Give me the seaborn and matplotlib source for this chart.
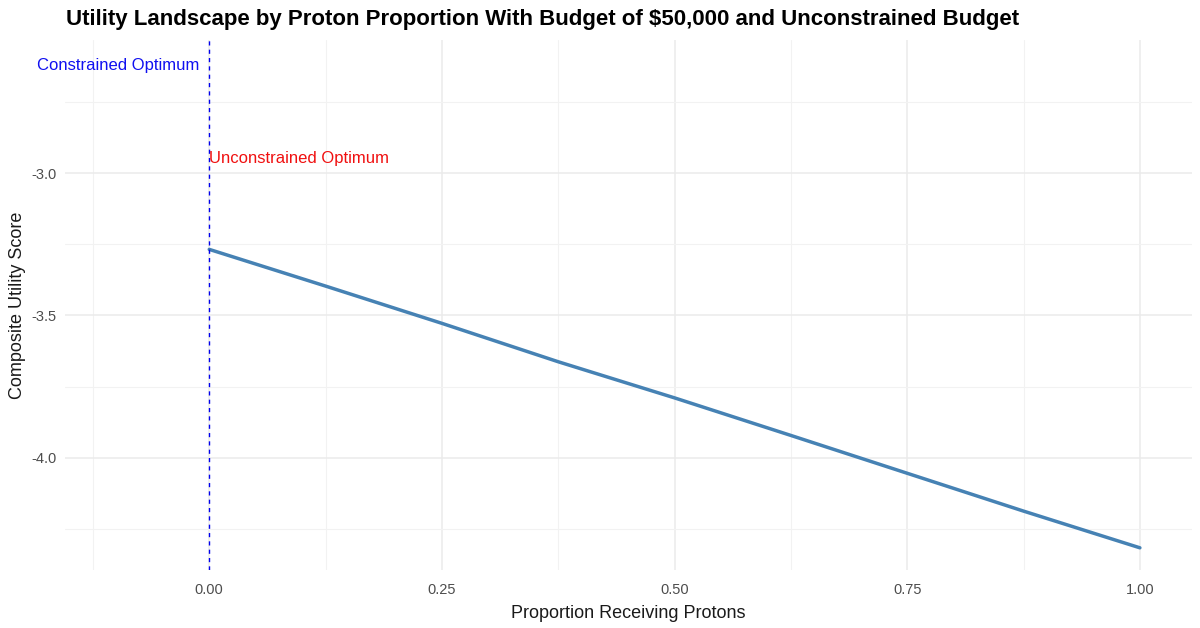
#!/usr/bin/env python3
"""
Utility landscape by proton proportion, ggplot-minimal look in seaborn
"""

import matplotlib
matplotlib.use('Agg')
import matplotlib.pyplot as plt
from matplotlib.ticker import MultipleLocator
import seaborn as sns
import pandas as pd

# Data
proportion = [0.0, 0.125, 0.25, 0.375, 0.5, 0.625, 0.75, 0.875, 1.0]
utility = [-3.268, -3.397, -3.528, -3.663, -3.790, -3.922, -4.055, -4.188, -4.317]

constrained_opt = 0.0
constrained_label_y = -2.62
unconstrained_opt = 0.0
unconstrained_label_y = -2.947

x_ticks = [0.0, 0.25, 0.5, 0.75, 1.0]
x_tick_labels = ['0.00', '0.25', '0.50', '0.75', '1.00']
y_ticks = [-4.0, -3.5, -3.0]
y_tick_labels = ['-4.0', '-3.5', '-3.0']

df = pd.DataFrame({'proportion': proportion, 'utility': utility})

sns.set_theme(style='white')
plt.rcParams['font.family'] = ['Liberation Sans', 'DejaVu Sans']

fig = plt.figure(figsize=(12, 6.28), dpi=100)
ax_w = (1192 - 65) / 1200
ax = fig.add_axes([65 / 1200, 1 - 570 / 628, ax_w, (570 - 40) / 628])

# grid like theme_minimal
ax.xaxis.set_major_locator(MultipleLocator(0.25))
ax.xaxis.set_minor_locator(MultipleLocator(0.125))
ax.yaxis.set_major_locator(MultipleLocator(0.5))
ax.yaxis.set_minor_locator(MultipleLocator(0.25))
ax.grid(which='major', color='#EBEBEB', linewidth=1.1)
ax.grid(which='minor', color='#F2F2F2', linewidth=0.8)
ax.set_axisbelow(True)

sns.lineplot(data=df, x='proportion', y='utility', color='steelblue',
             linewidth=2.5, ax=ax)

ax.axvline(constrained_opt, color='#0000EE', linestyle=(0, (3, 3)), linewidth=1.0)
ax.text(constrained_opt - 0.011, constrained_label_y, 'Constrained Optimum',
        color='#1010F0', fontsize=12, ha='right', va='center')
ax.text(unconstrained_opt, unconstrained_label_y, 'Unconstrained Optimum',
        color='#F01010', fontsize=12, ha='left', va='center')

ax.set_xlim(-0.155, 1.056)
ax.set_ylim(-4.395, -2.532)
ax.set_xticks(x_ticks)
ax.set_xticklabels(x_tick_labels)
ax.set_yticks(y_ticks)
ax.set_yticklabels(y_tick_labels)
ax.tick_params(axis='both', which='both', length=0, labelsize=10.5,
               labelcolor='#4D4D4D')
ax.tick_params(axis='x', pad=9)
ax.tick_params(axis='y', pad=6)

for spine in ax.spines.values():
    spine.set_visible(False)

ax.set_xlabel('Proportion Receiving Protons', fontsize=13, color='#1A1A1A', labelpad=6)
ax.set_ylabel('Composite Utility Score', fontsize=13, color='#1A1A1A', va='center')
ax.yaxis.set_label_coords(-47 / (ax_w * 1200), 0.5)

fig.text(66 / 1200, 1 - 19 / 628, 'Utility Landscape by Proton Proportion With Budget of $50,000 and Unconstrained Budget',
         fontsize=16, fontweight='bold', color='black', ha='left', va='center')

fig.savefig('out.png', dpi=100)
plt.close(fig)
